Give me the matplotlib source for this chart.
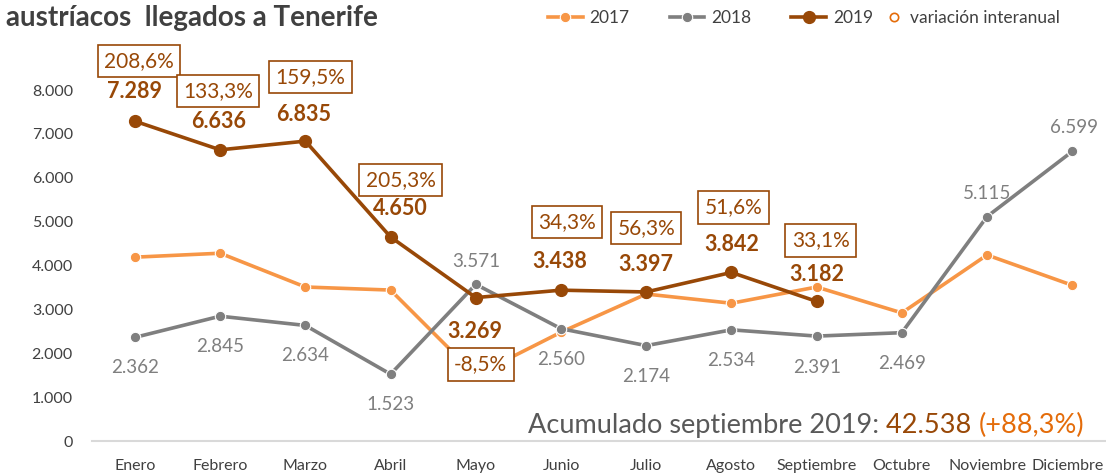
import numpy as np
import matplotlib.pyplot as plt
import matplotlib.transforms as mtransforms
from matplotlib.ticker import FuncFormatter

plt.rcParams['font.family'] = ['Lato', 'DejaVu Sans']

# data
meses = ['Enero', 'Febrero', 'Marzo', 'Abril', 'Mayo', 'Junio', 'Julio',
         'Agosto', 'Septiembre', 'Octubre', 'Noviembre', 'Diciembre']
v2017 = [4190, 4280, 3510, 3440, 1500, 2480, 3350, 3140, 3510, 2920, 4240, 3550]
v2018 = [2362, 2845, 2634, 1523, 3571, 2560, 2174, 2534, 2391, 2469, 5115, 6599]
v2019 = [7289, 6636, 6835, 4650, 3269, 3438, 3397, 3842, 3182]
variacion = [208.6, 133.3, 159.5, 205.3, -8.5, 34.3, 56.3, 51.6, 33.1]
acumulado = 42538
acumulado_var = 88.3

# label offsets in pixels (dx, dy)
off2018 = [(0, -30)] * 4 + [(0, 23)] + [(0, -31)] * 5 + [(0, 23), (2, 24)]
off2019 = [(0, 30), (-2, 28), (-2, 27), (10, 28), (-1, -34),
           (-1, 29), (0, 27), (0, 28), (0, 27)]
offvar = [(4, 60), (-2, 59), (5, 64), (10, 57), (5, -67),
          (6, 68), (0, 64), (2, 65), (4, 61)]

c17 = '#F79646'
c18 = '#7F7F7F'
c19 = '#984807'
cvar = '#E46C0A'

def miles(v):
    return f'{int(v):,}'.replace(',', '.')

fig = plt.figure(figsize=(11.06, 4.76), dpi=100)
ax = fig.add_axes([0.0835, 0.0735, 0.9245, 0.8296])

x = np.arange(len(meses))
l17, = ax.plot(x, v2017, color=c17, lw=2.6, marker='o', ms=7.5, mec='white', mew=0.8, label='2017', zorder=3)
l18, = ax.plot(x, v2018, color=c18, lw=2.6, marker='o', ms=7.5, mec='white', mew=0.8, label='2018', zorder=4)
x19 = np.arange(len(v2019))
l19, = ax.plot(x19, v2019, color=c19, lw=2.6, marker='o', ms=8.5, label='2019', zorder=5)
lvar, = ax.plot([], [], ls='none', marker='o', ms=6, mfc='none', mec=cvar, mew=1.2,
                label='variación interanual')

for i, v in enumerate(v2018):
    dx, dy = off2018[i]
    ax.annotate(miles(v), (i, v), xytext=(dx, dy), textcoords='offset pixels',
                ha='center', va='center', fontsize=13.5, color=c18)

for i, v in enumerate(v2019):
    dx, dy = off2019[i]
    ax.annotate(miles(v), (i, v), xytext=(dx, dy), textcoords='offset pixels',
                ha='center', va='center', fontsize=15.5, fontweight='bold', color=c19)
    dx, dy = offvar[i]
    txt = f'{variacion[i]:.1f}'.replace('.', ',') + '%'
    ax.annotate(txt, (i, v), xytext=(dx, dy), textcoords='offset pixels',
                ha='center', va='center', fontsize=15, color=c19,
                bbox=dict(boxstyle='square,pad=0.3', fc='white', ec=c19, lw=1.2))

ax.set_xlim(-0.5, 11.5)
ax.set_ylim(0, 9000)
ax.set_yticks(np.arange(0, 8001, 1000))
ax.yaxis.set_major_formatter(FuncFormatter(lambda v, p: miles(v)))
ax.set_xticks(x)
ax.set_xticklabels(meses)
ax.tick_params(axis='both', length=0, colors='#404040')
ax.tick_params(axis='y', pad=14, labelsize=11.5)
ax.tick_params(axis='x', pad=13, labelsize=11.5)
# keep the last month label inside the figure
last = ax.get_xticklabels()[-1]
last.set_transform(last.get_transform() +
                   mtransforms.ScaledTranslation(-5 / 100, 0, fig.dpi_scale_trans))
for s in ['top', 'right', 'left']:
    ax.spines[s].set_visible(False)
ax.spines['bottom'].set_color('#D9D9D9')
ax.spines['bottom'].set_linewidth(1.5)

fig.text(0.005, 0.962, 'austríacos  llegados a Tenerife', fontsize=20, fontweight='bold',
         color='#404040', va='center', ha='left')

leg1 = fig.legend(handles=[l17, l18, l19], loc='center left', bbox_to_anchor=(548 / 1106, 0.962),
                  ncol=3, frameon=False, fontsize=12.5, handlelength=2.0, columnspacing=2.3,
                  handletextpad=0.4, borderpad=0, borderaxespad=0, labelcolor='#404040')
fig.legend(handles=[lvar], loc='center left', bbox_to_anchor=(885 / 1106, 0.962),
           frameon=False, fontsize=12.5, handlelength=1.0, handletextpad=0.45,
           borderpad=0, borderaxespad=0, labelcolor='#404040')

t1 = fig.text(0.4774, 0.107, 'Acumulado septiembre 2019: ', fontsize=19.5,
              color='#595959', va='center', ha='left')
fig.canvas.draw()
bb = t1.get_window_extent()
t2 = fig.text(bb.x1 / fig.bbox.width, 0.107, miles(acumulado) + ' ', fontsize=19.5,
              color=c19, va='center', ha='left')
fig.canvas.draw()
bb2 = t2.get_window_extent()
fig.text(bb2.x1 / fig.bbox.width, 0.107,
         '(+' + f'{acumulado_var:.1f}'.replace('.', ',') + '%)',
         fontsize=19.5, color=cvar, va='center', ha='left')

fig.savefig('out.png', dpi=100)
